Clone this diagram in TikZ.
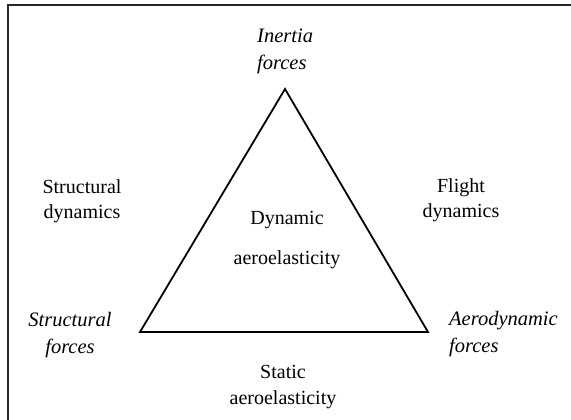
\documentclass[tikz,border=0pt]{standalone}
\usepackage{fontspec}
\setmainfont{Liberation Serif}
\usetikzlibrary{positioning}

\tikzset{
    lbl/.style={font=\fontsize{20}{25.5}\selectfont, align=center, inner sep=0pt},
    force/.style={lbl, font=\fontsize{20.5}{27}\selectfont\itshape},
}

\begin{document}
\begin{tikzpicture}[x=1pt, y=-1pt]
    % Frame (cut off at the right and bottom)
    \fill[white] (0,0) rectangle (571,420);
    \useasboundingbox (0,0) rectangle (571,420);
    \draw[black!85, line width=2] (8,420) -- (8,5) -- (571,5);

    % Triangle
    \coordinate (inertia) at (285,89);
    \coordinate (structural) at (140,332);
    \coordinate (aero) at (428,332);
    \draw[line width=1.8, line join=miter] (inertia) -- (structural) -- (aero) -- cycle;

    % Forces at the corners
    \node[force, align=left, anchor=west] (inertiaL) at (257,51) {Inertia\\forces};
    \node[force] (structuralL) at (70,335) {Structural\\forces};
    \node[force, align=left, anchor=west] (aeroL) at (449,334) {Aerodynamic\\forces};

    % Disciplines
    \node[lbl] (sdyn) at (82,201) {Structural\\dynamics};
    \node[lbl] (fdyn) at (461,200) {Flight\\dynamics};
    \node[lbl] (dyn) at (287,220) {Dynamic};
    \node[lbl, below=40pt of dyn.base, anchor=base] (dynae) {aeroelasticity};
    \node[lbl] (stat) at (283,387) {Static\\aeroelasticity};
\end{tikzpicture}
\end{document}
